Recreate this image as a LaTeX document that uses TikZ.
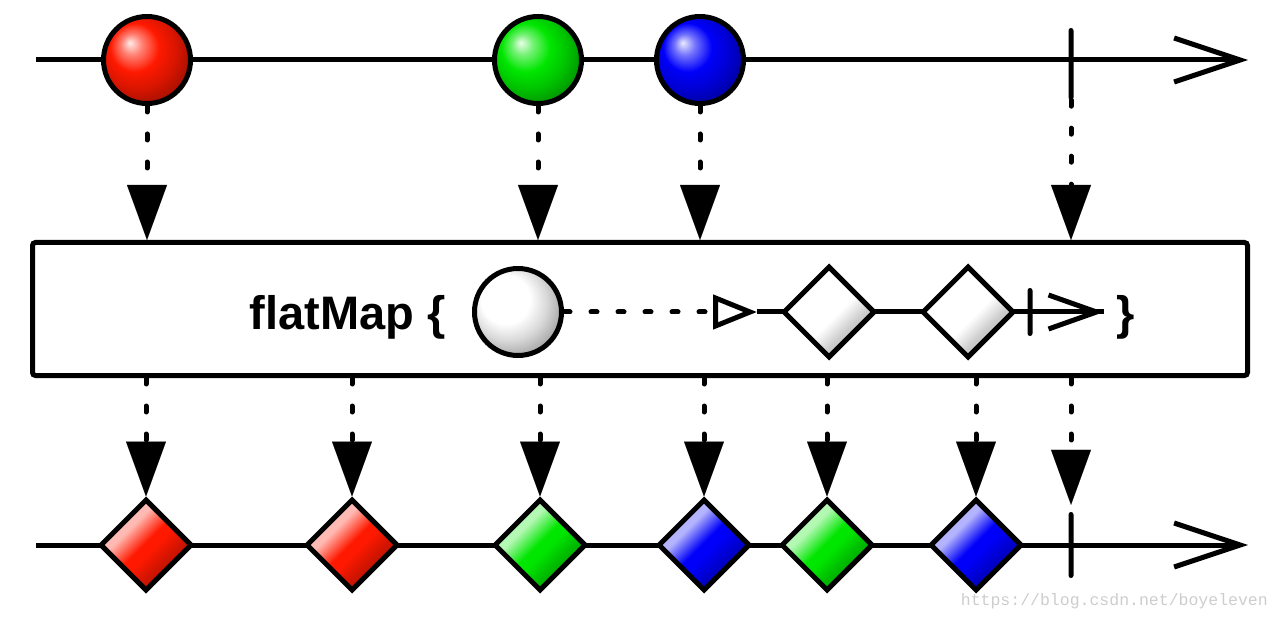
\documentclass[tikz,border=0pt]{standalone}
\usepackage{fontspec}
\setmainfont{Liberation Sans}
\newfontfamily\markfont{Liberation Mono}
\usetikzlibrary{positioning,arrows.meta,shapes.geometric}
\definecolor{mred}{RGB}{255,25,0}
\definecolor{mgreen}{RGB}{0,230,0}
\definecolor{mblue}{RGB}{0,0,250}
\definecolor{wmark}{RGB}{205,205,205}
\colorlet{marblecol}{red}
\colorlet{gemcol}{red}
\pgfdeclareradialshading[marblecol]{marbleshade}{\pgfpoint{-10bp}{10bp}}{%
  color(0bp)=(marblecol!8!white); color(6bp)=(marblecol!55!white);
  color(14bp)=(marblecol); color(22bp)=(marblecol!85!black); color(32bp)=(marblecol!60!black);
  color(50bp)=(marblecol!50!black)}
\pgfdeclareverticalshading[gemcol]{gemshade}{100bp}{%
  color(0bp)=(gemcol!65!black); color(36bp)=(gemcol!80!black); color(46bp)=(gemcol);
  color(51bp)=(gemcol); color(63bp)=(gemcol!30!white); color(100bp)=(gemcol!25!white)}
\tikzset{
  stream/.style={line width=5pt},
  timeline/.style={stream, -{Straight Barb[length=66pt,width=44pt]}},
  feed/.style={line width=5pt, line cap=round, dash pattern=on 6pt off 22pt,
    -{Triangle[length=55pt,width=40pt,line width=0.1pt]}},
  marble/.style={circle, draw, line width=5pt, minimum size=87pt, inner sep=0pt,
    /utils/exec={\colorlet{marblecol}{#1}}, shading=marbleshade},
  gem/.style={diamond, draw, line width=5pt, minimum width=92pt, minimum height=92pt,
    inner sep=0pt, /utils/exec={\colorlet{gemcol}{#1}}, shading=gemshade, shading angle=45},
  stopbar/.style={fill=black, rounded corners=2.5pt, minimum width=5pt, minimum height=#1, inner sep=0pt},
  opbox/.style={draw, fill=white, line width=5pt, rounded corners=3pt, minimum width=1215pt, minimum height=133pt}
}
\begin{document}
\begin{tikzpicture}[x=1pt,y=-1pt]
  \useasboundingbox (0,0) rectangle (1280,620);
  % source stream
  \coordinate (src0) at (36,60);
  \coordinate (src1) at (1248,60);
  \draw[timeline] (src0) -- (src1);
  \node[marble=mred] (r1) at (147,60) {};
  \node[marble=mgreen] (g1) at (538,60) {};
  \node[marble=mblue] (b1) at (700,60) {};
  \node[stopbar=72pt] (end1) at (1071,64) {};
  % operator box
  \node[opbox] (box) at (640,309) {};
  \node[anchor=base east, inner sep=0pt, font=\bfseries\fontsize{47}{50}\selectfont] (label) at (446,330) {flatMap \{};
  \coordinate (tipA) at (757,312);
  \coordinate (out1) at (1104,312);
  \draw[stream] (tipA) -- (out1);
  \node[marble=white] (c0) at (518,312) {};
  \node[gem=white] (i1) at (829,312) {};
  \node[gem=white] (i2) at (968,312) {};
  \draw[stream, -{Straight Barb[length=48pt,width=34pt]}] (i2.east) -- (out1);
  \node[stopbar=48pt] (end2) at (1030,312) {};
  \draw[line width=5pt, line cap=round, dash pattern=on 6pt off 21pt,
    -{Triangle[open,length=44pt,width=34pt,line width=5pt]}] (c0.east) -- (tipA);
  \node[anchor=base west, inner sep=0pt, font=\bfseries\fontsize{47}{50}\selectfont] (close) at (1116,330) {\}};
  % into the box
  \foreach \src in {r1,g1,b1}
    \draw[feed] (\src.south) -- (\src.south |- box.north);
  \draw[feed] (end1.south) -- (end1.south |- box.north);
  % result stream
  \coordinate (res0) at (36,545);
  \coordinate (res1) at (1248,545);
  \draw[timeline] (res0) -- (res1);
  \node[gem=mred] (o1) at (146,545) {};
  \node[gem=mred] (o2) at (352,545) {};
  \node[gem=mgreen] (o3) at (540,545) {};
  \node[gem=mblue] (o4) at (704,545) {};
  \node[gem=mgreen] (o5) at (827,545) {};
  \node[gem=mblue] (o6) at (976,545) {};
  \node[stopbar=66pt] (end3) at (1071,545) {};
  % out of the box
  \foreach \res in {o1,o2,o3,o4,o5,o6}
    \draw[feed] (\res.north |- box.south) -- (\res.north);
  \draw[feed] (end3.north |- box.south) -- ([yshift=7pt]end3.north);
  % watermark
  \node[anchor=east, inner sep=0pt, text=wmark, font=\markfont\fontsize{16.5}{18}\selectfont] (mark) at (1268,601) {https://blog.csdn.net/boyeleven};
\end{tikzpicture}
\end{document}
